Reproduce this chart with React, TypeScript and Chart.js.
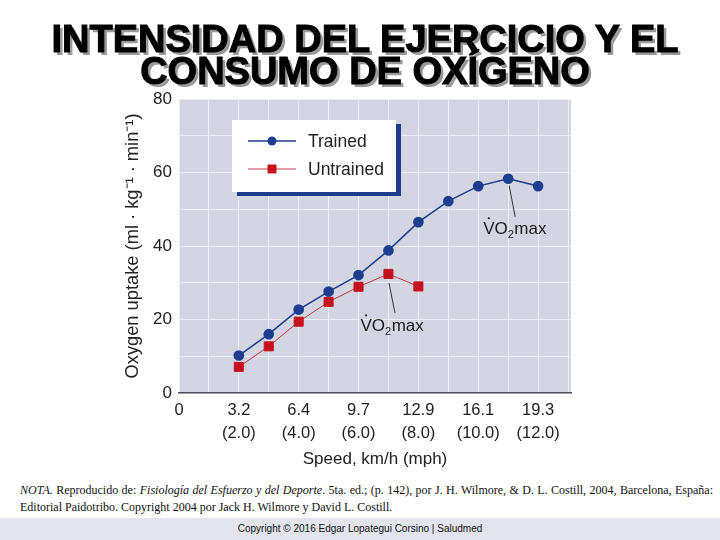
import React, { useEffect, useRef } from "react";
import { Chart, registerables } from "chart.js";

Chart.register(...registerables);

// ---- data ----
const trainedMph = [2, 3, 4, 5, 6, 7, 8, 9, 10, 11, 12];
const trainedVO2 = [10.2, 16.0, 22.7, 27.6, 32.1, 38.8, 46.5, 52.2, 56.3, 58.3, 56.3];
const untrainedMph = [2, 3, 4, 5, 6, 7, 8];
const untrainedVO2 = [7.1, 12.7, 19.4, 24.8, 28.9, 32.4, 29.0];
const seriesNames = ["Trained", "Untrained"];
const xTickMph = [0, 2, 4, 6, 8, 10, 12];
const xTickKmh = ["0", "3.2", "6.4", "9.7", "12.9", "16.1", "19.3"];
const xTickMphText = ["", "(2.0)", "(4.0)", "(6.0)", "(8.0)", "(10.0)", "(12.0)"];
const yTickLabels = [0, 20, 40, 60, 80];
const xTitle = "Speed, km/h (mph)";
const yTitle = "Oxygen uptake (ml · kg⁻¹ · min⁻¹)";
const titleLines = ["INTENSIDAD DEL EJERCICIO Y EL", "CONSUMO DE OXÍGENO"];

const FONT = '"Liberation Sans", Arial, Helvetica, sans-serif';
const BLUE = "#1d3d8f";
const RED = "#c5121f";

const bgPlugin = {
  id: "plotBg",
  beforeDraw(chart: any) {
    const { ctx, chartArea: a } = chart;
    ctx.save();
    ctx.fillStyle = "#d3d5e3";
    ctx.fillRect(a.left, a.top, a.right - a.left, a.bottom - a.top);
    ctx.restore();
  },
};

// VO2max annotations: offsets (style) relative to each series' max point
const annoStyle = [
  { l0: [1, 7], l1: [7, 38], tx: -25, ty: 55 },
  { l0: [0.5, 9], l1: [6.5, 39], tx: -28, ty: 57 },
];

function drawVO2max(ctx: CanvasRenderingContext2D, x: number, y: number) {
  ctx.font = `17px ${FONT}`;
  ctx.fillStyle = "#1a1a1a";
  ctx.textBaseline = "alphabetic";
  ctx.textAlign = "left";
  ctx.fillText("VO", x, y);
  const wV = ctx.measureText("V").width;
  const wVO = ctx.measureText("VO").width;
  ctx.beginPath();
  ctx.arc(x + wV / 2, y - 15.5, 1.1, 0, Math.PI * 2);
  ctx.fill();
  ctx.font = `11px ${FONT}`;
  ctx.fillText("2", x + wVO, y + 4);
  const w2 = ctx.measureText("2").width;
  ctx.font = `17px ${FONT}`;
  ctx.fillText("max", x + wVO + w2 + 0.5, y);
}

const annoPlugin = {
  id: "vo2anno",
  afterDatasetsDraw(chart: any) {
    const { ctx } = chart;
    chart.data.datasets.forEach((ds: any, i: number) => {
      let mi = 0;
      ds.data.forEach((p: any, k: number) => {
        if (p.y > ds.data[mi].y) mi = k;
      });
      const px = chart.scales.x.getPixelForValue(ds.data[mi].x);
      const py = chart.scales.y.getPixelForValue(ds.data[mi].y);
      const s = annoStyle[i];
      ctx.save();
      ctx.strokeStyle = "#333";
      ctx.lineWidth = 1;
      ctx.beginPath();
      ctx.moveTo(px + s.l0[0], py + s.l0[1]);
      ctx.lineTo(px + s.l1[0], py + s.l1[1]);
      ctx.stroke();
      drawVO2max(ctx, px + s.tx, py + s.ty);
      ctx.restore();
    });
  },
};

const legendPlugin = {
  id: "boxLegend",
  afterDraw(chart: any) {
    const { ctx, chartArea: a } = chart;
    const x = a.left + 53;
    const y = a.top + 21;
    const w = 164;
    const h = 72;
    ctx.save();
    ctx.fillStyle = "#1f3b8a";
    ctx.fillRect(x + 5, y + 4, w, h);
    ctx.fillStyle = "#ffffff";
    ctx.fillRect(x, y, w, h);
    chart.data.datasets.forEach((ds: any, i: number) => {
      const ry = y + 21 + i * 28;
      ctx.strokeStyle = ds.borderColor;
      ctx.lineWidth = ds.borderWidth;
      ctx.beginPath();
      ctx.moveTo(x + 16, ry);
      ctx.lineTo(x + 64, ry);
      ctx.stroke();
      ctx.fillStyle = ds.pointBackgroundColor;
      if (ds.pointStyle === "rect") {
        ctx.fillRect(x + 40 - 4.5, ry - 4.5, 9, 9);
      } else {
        ctx.beginPath();
        ctx.arc(x + 40, ry, 4.5, 0, Math.PI * 2);
        ctx.fill();
      }
      ctx.fillStyle = "#222";
      ctx.font = `17.5px ${FONT}`;
      ctx.textBaseline = "middle";
      ctx.textAlign = "left";
      ctx.fillText(ds.label, x + 76, ry + 1);
    });
    ctx.restore();
  },
};

function OxygenChart() {
  const ref = useRef<HTMLCanvasElement | null>(null);
  useEffect(() => {
    if (!ref.current) return;
    const chart = new Chart(ref.current, {
      type: "line",
      data: {
        datasets: [
          {
            label: seriesNames[0],
            data: trainedMph.map((x, i) => ({ x, y: trainedVO2[i] })),
            borderColor: BLUE,
            backgroundColor: BLUE,
            pointBackgroundColor: BLUE,
            pointBorderColor: BLUE,
            borderWidth: 1.5,
            pointRadius: 4.6,
            pointStyle: "circle",
            tension: 0,
          },
          {
            label: seriesNames[1],
            data: untrainedMph.map((x, i) => ({ x, y: untrainedVO2[i] })),
            borderColor: "#c23a48",
            backgroundColor: RED,
            pointBackgroundColor: RED,
            pointBorderColor: RED,
            borderWidth: 1,
            pointRadius: 6.4,
            pointStyle: "rect",
            tension: 0,
          },
        ] as any,
      },
      options: {
        animation: false,
        responsive: false,
        layout: { padding: { left: 122, top: 99, right: 149, bottom: 10 } },
        plugins: { legend: { display: false }, tooltip: { enabled: false } },
        scales: {
          x: {
            type: "linear",
            min: 0,
            max: 13.1,
            afterFit(scale: any) {
              scale.height = 77;
            },
            ticks: {
              stepSize: 1,
              includeBounds: false,
              autoSkip: false,
              maxRotation: 0,
              padding: 5,
              color: "#222",
              font: { family: FONT, size: 16.5, lineHeight: 1.45 },
              callback: (v: any) => {
                const i = xTickMph.indexOf(Number(v));
                if (i < 0) return "";
                return xTickMphText[i] ? [xTickKmh[i], xTickMphText[i]] : xTickKmh[i];
              },
            },
            grid: { color: "#eceef5", lineWidth: 1, drawTicks: false },
            border: { display: true, color: "#505062", width: 1.5 },
            title: {
              display: true,
              text: xTitle,
              color: "#222",
              padding: 0,
              font: { family: FONT, size: 17, lineHeight: 1.2 },
            },
          },
          y: {
            min: 0,
            max: 80,
            afterFit(scale: any) {
              scale.width = 57;
            },
            ticks: {
              stepSize: 10,
              padding: 7,
              color: "#222",
              font: { family: FONT, size: 17 },
              callback: (v: any) => (yTickLabels.includes(Number(v)) ? String(v) : ""),
            },
            grid: { color: "#eceef5", lineWidth: 1, drawTicks: false },
            border: { display: false },
            title: {
              display: true,
              text: yTitle,
              color: "#222",
              padding: 0,
              font: { family: FONT, size: 18.3, lineHeight: 1.2 },
            },
          },
        },
      } as any,
      plugins: [bgPlugin, annoPlugin, legendPlugin],
    });
    return () => chart.destroy();
  }, []);
  return (
    <canvas
      ref={ref}
      width={720}
      height={480}
      style={{ position: "absolute", left: 0, top: 0, width: 720, height: 480 }}
    />
  );
}

export default function App() {
  return (
    <div
      style={{
        position: "fixed",
        left: 0,
        top: 0,
        width: 720,
        height: 540,
        background: "#fff",
        overflow: "hidden",
      }}
    >
      <div
        style={{
          position: "absolute",
          left: 0,
          top: 518,
          width: 720,
          height: 22,
          background: "#e4e4ee",
          textAlign: "center",
          font: `10px ${FONT}`,
          lineHeight: "22px",
          color: "#111",
        }}
      >
        Copyright © 2016 Edgar Lopategui Corsino | Saludmed
      </div>
      <OxygenChart />
      <div
        style={{
          position: "absolute",
          left: 10,
          top: 23,
          width: 710,
          textAlign: "center",
          fontFamily: FONT,
          fontWeight: 700,
          fontSize: 38,
          lineHeight: "32px",
          color: "#000",
          WebkitTextStroke: "1px #000",
          textShadow: "3px 3px 0 #9a9a9a",
        }}
      >
        {titleLines[0]}
        <br />
        {titleLines[1]}
      </div>
      <div
        style={{
          position: "absolute",
          left: 20,
          top: 482,
          width: 693,
          fontFamily: '"Liberation Serif", "Times New Roman", serif',
          fontSize: 12,
          lineHeight: "17px",
          color: "#111",
        }}
      >
        <div
          style={{
            textAlign: "justify",
            textAlignLast: "justify" as any,
            whiteSpace: "nowrap",
          }}
        >
          <i>NOTA.</i> Reproducido de: <i>Fisiología del Esfuerzo y del Deporte</i>. 5ta. ed.; (p. 142), por J. H.
          Wilmore, &amp; D. L. Costill, 2004, Barcelona, España:
        </div>
        <div>Editorial Paidotribo. Copyright 2004 por Jack H. Wilmore y David L. Costill.</div>
      </div>
    </div>
  );
}
